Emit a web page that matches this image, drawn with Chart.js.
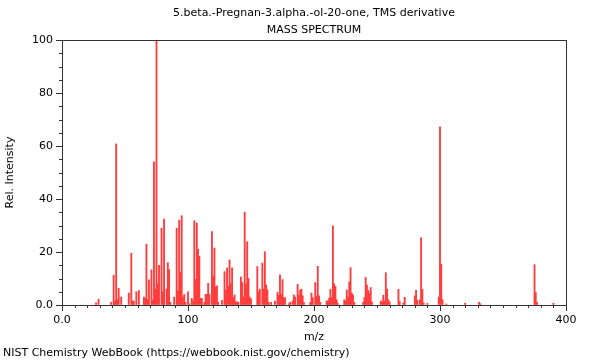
<!DOCTYPE html>
<html>
<head>
<meta charset="utf-8">
<script src="https://cdn.jsdelivr.net/npm/chart.js@4/dist/chart.umd.min.js"></script>
<style>
  html, body { margin: 0; padding: 0; background: #fff; }
  canvas { display: block; }
</style>
</head>
<body>
<canvas id="spec" width="600" height="360"></canvas>
<script>
// mass spectrum: m/z values and relative intensities
const mzValues = [
  27, 29, 39, 41, 42, 43, 44, 45, 47, 53, 55, 56, 57, 59, 61, 65, 66, 67, 68, 69,
  71, 72, 73, 74, 75, 76, 77, 79, 80, 81, 83, 84, 85, 86, 89, 91, 92, 93, 94, 95,
  96, 97, 98, 100, 101, 103, 104, 105, 106, 107, 108, 109, 110, 111, 113, 114, 115, 116, 117, 119,
  120, 121, 122, 123, 124, 127, 129, 130, 131, 132, 133, 134, 135, 136, 137, 138, 139, 140, 142, 143,
  144, 145, 146, 147, 148, 149, 150, 155, 156, 157, 159, 160, 161, 162, 163, 164, 166, 169, 171, 172,
  173, 174, 175, 176, 177, 180, 181, 183, 184, 185, 187, 188, 189, 190, 191, 192, 197, 198, 199, 201,
  202, 203, 204, 205, 210, 211, 212, 213, 214, 215, 216, 217, 218, 219, 224, 225, 226, 227, 228, 229,
  230, 231, 232, 239, 240, 241, 242, 243, 244, 245, 246, 253, 254, 255, 256, 257, 258, 259, 260, 267,
  268, 271, 272, 280, 281, 282, 284, 285, 286, 287, 290, 299, 300, 301, 302, 305, 320, 331, 332, 375,
  376, 377, 390
];
const intensities = [
  0.8, 2.2, 1, 11.2, 1.5, 60.8, 2, 6.3, 3, 4.5, 19.5, 1.5, 1.5, 5, 5.5, 3, 2.5, 23, 2, 9.5,
  13.3, 2, 54, 6, 100, 8, 15, 29, 5, 32.4, 6, 16, 13.4, 1, 3, 29, 5.3, 32, 12.2, 33.7,
  3, 4, 1, 5, 0.5, 2.5, 1.5, 31.8, 9.7, 30.9, 21, 18.4, 2.5, 2.5, 1, 4, 4, 8.2, 4, 27.7,
  11, 21.5, 6.8, 7.2, 1, 1.8, 12.6, 5.6, 14, 7, 17, 8, 14, 2.8, 3.8, 1.2, 1.2, 1, 10.6, 8.5,
  3, 35, 8, 23.9, 10, 3, 2.3, 14.5, 5, 6, 15.8, 6, 20.1, 7.6, 5.8, 1, 1, 1.5, 4.8, 3.7,
  11.4, 4, 9.6, 2.8, 2.8, 0.5, 1, 1.5, 3.8, 3, 7.8, 3.6, 5.6, 6, 3.5, 1, 1, 4.5, 2.8, 8.5,
  3.2, 14.6, 3.5, 1, 1.6, 1.4, 2.5, 5.9, 2.9, 29.9, 8, 7, 2, 0.5, 2, 1.5, 5.7, 3, 8.7, 14.1,
  4.5, 3.7, 1, 1, 2.8, 10.4, 7.5, 5.5, 4.5, 6.6, 1.2, 1.5, 1.2, 3.7, 1.5, 12.2, 6, 2, 1.2, 5.9,
  1.3, 0.8, 2.9, 3.4, 5.5, 1.8, 2, 25.4, 6, 0.8, 0.6, 3, 67.2, 15.4, 2, 0.4, 0.7, 1, 0.5, 15.2,
  4.7, 1, 0.7
];

const xTicks = [0, 100, 200, 300, 400];
const yTicks = [0, 20, 40, 60, 80, 100];

const points = mzValues.map((m, i) => ({ x: m, y: intensities[i] }));

Chart.defaults.font.family = "'DejaVu Sans', sans-serif";
Chart.defaults.font.size = 11;
Chart.defaults.color = '#000';

// frame round the plot + minor ticks (major every 100 / 20, minor every 10 / 5)
const frameTicks = {
  id: 'frameTicks',
  afterDraw(chart) {
    const { ctx, chartArea: a, scales: { x, y } } = chart;
    ctx.save();
    ctx.strokeStyle = '#333';
    ctx.lineWidth = 1;
    ctx.beginPath();
    for (let v = 0; v <= 400; v += 10) {
      const px = Math.round(x.getPixelForValue(v)) + 0.5;
      const len = xTicks.includes(v) ? 6 : 3;
      ctx.moveTo(px, a.bottom);
      ctx.lineTo(px, a.bottom + len);
    }
    for (let v = 0; v <= 100; v += 5) {
      const py = Math.round(y.getPixelForValue(v)) + 0.5;
      const len = yTicks.includes(v) ? 6 : 3;
      ctx.moveTo(a.left, py);
      ctx.lineTo(a.left - len, py);
    }
    ctx.stroke();
    ctx.strokeRect(Math.round(a.left) + 0.5, Math.round(a.top) + 0.5,
      Math.round(a.width), Math.round(a.height));
    ctx.restore();
  }
};

new Chart(document.getElementById('spec'), {
  type: 'bar',
  data: {
    datasets: [{
      data: points,
      backgroundColor: 'rgb(255,60,60)',
      borderWidth: 0,
      barThickness: 1.2,
      grouped: false
    }]
  },
  options: {
    responsive: false,
    animation: false,
    devicePixelRatio: 1,
    layout: { padding: { left: 3, right: 34, top: 0, bottom: 0 } },
    plugins: {
      legend: { display: false },
      tooltip: { enabled: false },
      title: {
        display: true,
        fullSize: false,
        text: ['5.beta.-Pregnan-3.alpha.-ol-20-one, TMS derivative', 'MASS SPECTRUM'],
        font: { size: 11, weight: 'normal', lineHeight: 1.55 },
        padding: { top: 4.5, bottom: 1.4 }
      },
      subtitle: {
        display: true,
        position: 'bottom',
        align: 'start',
        text: 'NIST Chemistry WebBook (https://webbook.nist.gov/chemistry)',
        font: { size: 11, weight: 'normal' },
        padding: { top: 3, bottom: 0.4 }
      }
    },
    scales: {
      x: {
        type: 'linear',
        min: 0,
        max: 400,
        offset: false,
        grid: { display: true, drawOnChartArea: false, offset: false, tickLength: 6, tickColor: 'rgba(0,0,0,0)' },
        border: { display: false },
        afterBuildTicks: s => { s.ticks = xTicks.map(v => ({ value: v })); },
        ticks: {
          padding: 3,
          maxRotation: 0,
          callback: v => v === 0 ? '0.0' : String(v)
        },
        title: { display: true, text: 'm/z', padding: { top: 0, bottom: 0 } }
      },
      y: {
        min: 0,
        max: 100,
        grid: { display: true, drawOnChartArea: false, tickLength: 6, tickColor: 'rgba(0,0,0,0)' },
        border: { display: false },
        afterBuildTicks: s => { s.ticks = yTicks.map(v => ({ value: v })); },
        ticks: {
          padding: 3,
          callback: v => v === 0 ? '0.0' : String(v)
        },
        title: { display: true, text: 'Rel. Intensity', padding: { top: 0.4, bottom: 12.4 } }
      }
    }
  },
  plugins: [frameTicks]
});
</script>
</body>
</html>
